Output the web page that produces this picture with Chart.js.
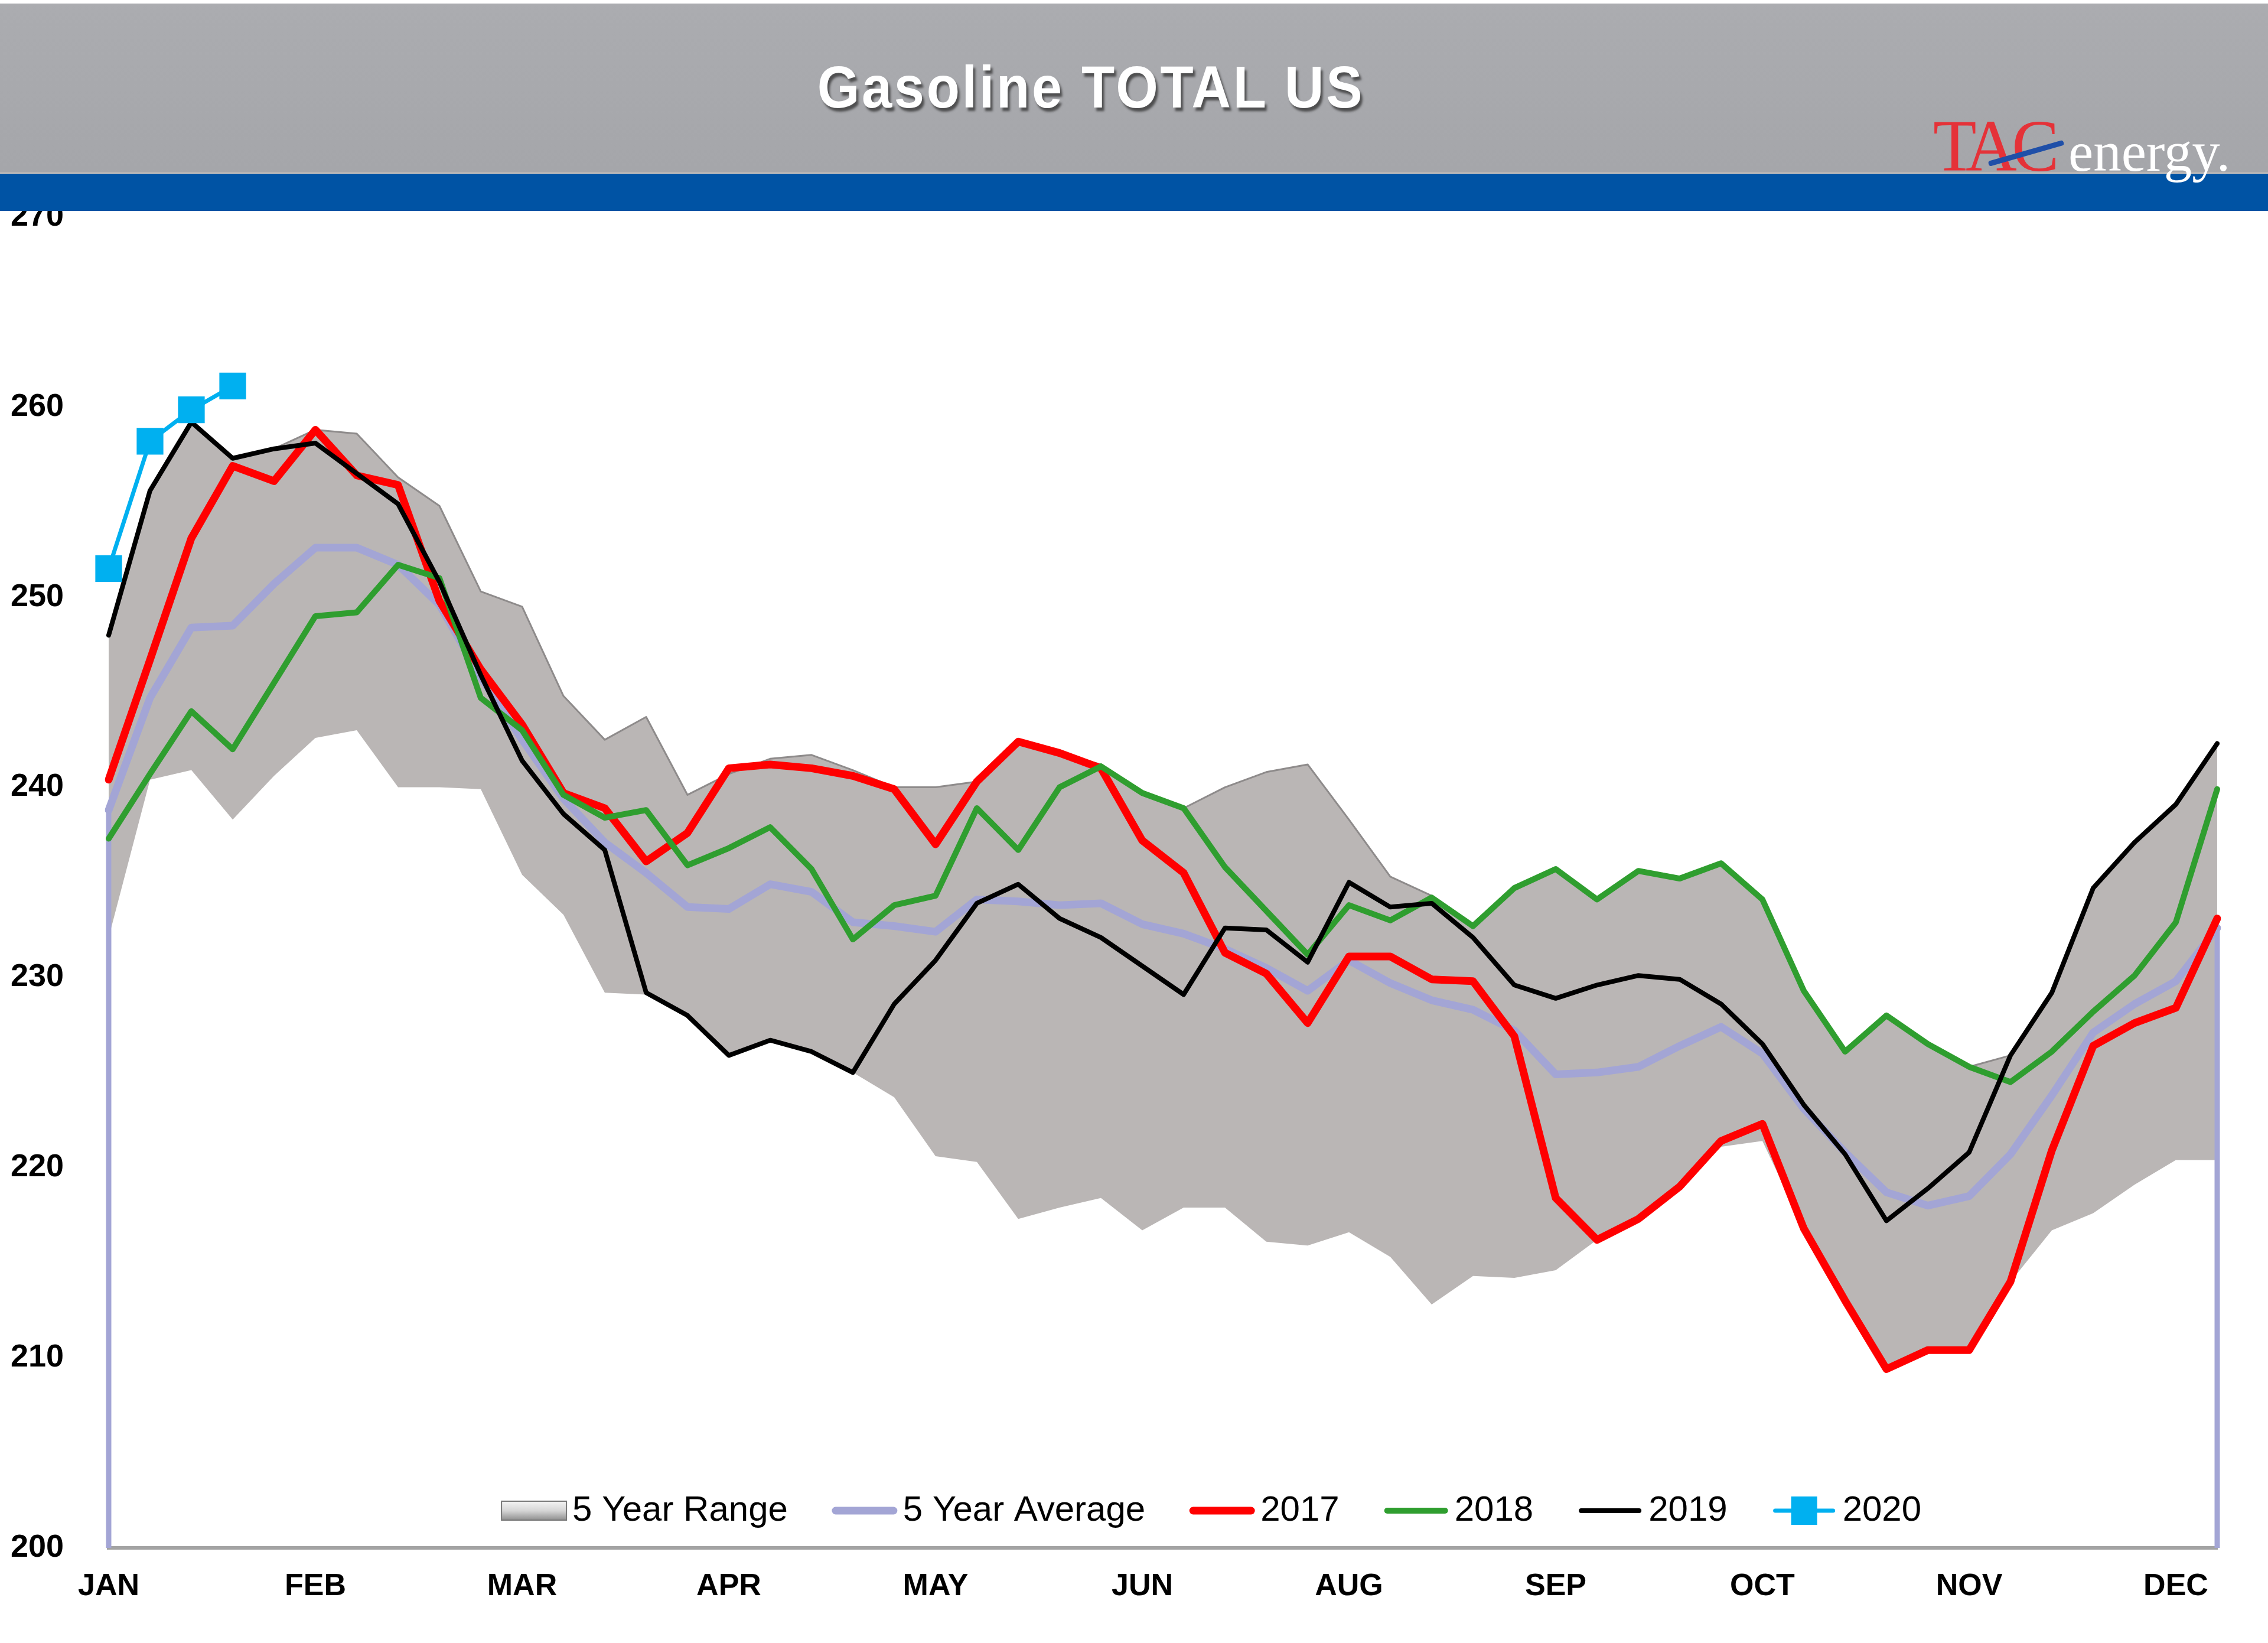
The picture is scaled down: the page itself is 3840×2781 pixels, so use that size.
<!DOCTYPE html>
<html>
<head>
<meta charset="utf-8">
<title>Gasoline TOTAL US</title>
<script src="https://cdn.jsdelivr.net/npm/chart.js@4.4.1/dist/chart.umd.min.js"></script>
<style>
  html, body { margin: 0; padding: 0; background: #fff; }
  #wrap { position: relative; width: 3840px; height: 2781px; overflow: hidden; }
  #chart { position: absolute; left: 0; top: 0; }
  #band { position: absolute; left: 0; top: 6px; width: 3840px; height: 286px; background: linear-gradient(#abacb0, #a5a6aa); }
  #blue { position: absolute; left: 0; top: 292px; width: 3840px; height: 63px; background: #0053a4; border-top: 2px solid #cfc6c0; }
  #title { position: absolute; left: 1847px; top: 147px; transform: translate(-50%, -50%) scaleX(0.92);
           font: bold 100px "Liberation Sans", Arial, sans-serif; letter-spacing: 4px; color: #fff; white-space: nowrap;
           text-shadow: 4px 6px 4px rgba(50,50,50,0.75); }
  .logo { position: absolute; font-family: "Liberation Serif", "Times New Roman", serif; white-space: nowrap; }
  #tac { left: 3273px; top: 186px; font-size: 124px; line-height: 124px; color: #e53238; letter-spacing: -9px;
         transform: scaleX(0.97); transform-origin: 0 0; }
  #energy { left: 3502px; top: 210px; font-size: 95px; line-height: 95px; color: #fff; }
  #slash { position: absolute; left: 3367px; top: 273px; width: 132px; height: 9px; background: #1f4fa8;
           transform-origin: 0 50%; transform: rotate(-16deg); border-radius: 4px; }
</style>
</head>
<body>
<div id="wrap">
  <canvas id="chart" width="3840" height="2781"></canvas>
  <div id="band"></div>
  <div id="blue"></div>
  <div id="title">Gasoline TOTAL US</div>
  <div class="logo" id="tac">TAC</div>
  <div class="logo" id="energy">energy.</div>
  <div id="slash"></div>
</div>
<script>
// weekly stocks, million barrels
const weeks = [1,2,3,4,5,6,7,8,9,10,11,12,13,14,15,16,17,18,19,20,21,22,23,24,25,26,
               27,28,29,30,31,32,33,34,35,36,37,38,39,40,41,42,43,44,45,46,47,48,49,50,51,52];
const monthTicks = ['JAN','FEB','MAR','APR','MAY','JUN','AUG','SEP','OCT','NOV','DEC'];
const tickEvery = 5;

const rangeHigh = [248.0,255.6,259.2,257.3,257.8,258.8,258.6,256.3,254.8,250.3,249.5,244.8,242.5,243.7,239.6,240.7,
                   241.5,241.7,240.9,240.0,240.0,240.3,242.4,241.8,241.2,239.7,238.9,240.0,240.8,241.2,238.3,235.3,
                   234.3,232.8,234.7,235.7,234.1,235.6,235.2,236.0,234.1,229.3,226.1,228.0,226.5,225.3,225.9,229.2,
                   234.7,237.1,239.1,242.3];
const rangeLow = [232.1,240.4,240.9,238.3,240.6,242.6,243.0,240.0,240.0,239.9,235.4,233.3,229.2,229.1,228.0,225.9,
                  226.7,226.1,225.0,223.7,220.6,220.3,217.3,217.9,218.4,216.7,217.9,217.9,216.1,215.9,216.6,215.3,
                  212.8,214.3,214.2,214.6,216.2,217.3,219.0,221.1,221.4,216.8,213.0,209.4,210.4,210.4,214.0,216.7,
                  217.6,219.1,220.4,220.4];
const avg5 = [238.8,244.7,248.4,248.5,250.7,252.6,252.6,251.7,249.6,245.8,242.5,239.4,237.1,235.5,233.7,233.6,
              234.9,234.5,232.9,232.7,232.4,234.1,234.0,233.8,233.9,232.8,232.3,231.5,230.5,229.3,230.9,229.7,
              228.8,228.3,227.2,224.9,225.0,225.3,226.4,227.4,226.0,223.1,220.8,218.7,218.0,218.5,220.7,223.8,
              227.1,228.6,229.8,232.6];
const y2017 = [240.4,246.7,253.1,256.9,256.1,258.8,256.4,255.9,249.8,246.2,243.3,239.7,238.9,236.1,237.6,241.0,
               241.2,241.0,240.6,239.9,237.0,240.3,242.4,241.8,241.0,237.2,235.5,231.3,230.2,227.6,231.1,231.1,
               229.9,229.8,226.9,218.4,216.2,217.3,219.0,221.4,222.3,216.8,213.0,209.4,210.4,210.4,214.0,220.9,
               226.4,227.6,228.4,233.1];
const y2018 = [237.3,240.7,244.0,242.0,245.5,249.0,249.2,251.7,251.0,244.7,243.0,239.6,238.4,238.8,235.9,236.8,
               237.9,235.7,232.0,233.8,234.3,238.9,236.7,240.0,241.1,239.7,238.9,235.8,233.5,231.2,233.8,233.0,
               234.2,232.7,234.7,235.7,234.1,235.6,235.2,236.0,234.1,229.3,226.1,228.0,226.5,225.3,224.5,226.1,
               228.2,230.1,232.9,239.9];
const y2019 = [248.0,255.6,259.2,257.3,257.8,258.1,256.5,254.9,250.8,245.9,241.4,238.6,236.7,229.2,228.0,225.9,
               226.7,226.1,225.0,228.6,230.9,233.9,234.9,233.1,232.1,230.6,229.1,232.6,232.5,230.8,235.0,233.7,
               233.9,232.1,229.6,228.9,229.6,230.1,229.9,228.6,226.5,223.3,220.7,217.2,218.9,220.8,225.9,229.2,
               234.7,237.1,239.1,242.3];
const y2020 = [251.5,258.2,259.85,261.1];

// the 5 year average is outlined down to the axis at both ends
const avgEnds = {
  id: 'avgEnds',
  afterDatasetDraw(chart, args) {
    if (args.index !== 4) return;
    const ds = chart.data.datasets[4];
    const x = chart.scales.x, y = chart.scales.y;
    const ctx = chart.ctx;
    ctx.save();
    ctx.strokeStyle = ds.borderColor;
    ctx.lineWidth = 9;
    [0, ds.data.length - 1].forEach(function (i) {
      ctx.beginPath();
      ctx.moveTo(x.getPixelForValue(i), y.getPixelForValue(ds.data[i]));
      ctx.lineTo(x.getPixelForValue(i), y.getPixelForValue(y.min));
      ctx.stroke();
    });
    ctx.restore();
  }
};

// legend sits inside the plot, above the month labels
const innerLegend = {
  id: 'innerLegend',
  afterDraw(chart) {
    const ctx = chart.ctx;
    const area = chart.chartArea;
    const items = [5, 4, 3, 2, 1, 0].map(function (i) { return chart.data.datasets[i]; });
    const sw = 110, gap = 10, between = 75;
    ctx.save();
    ctx.font = '60px "Liberation Sans", Arial, sans-serif';
    ctx.textBaseline = 'middle';
    let total = 0;
    items.forEach(function (ds, k) {
      total += sw + gap + ctx.measureText(ds.label).width + (k < items.length - 1 ? between : 0);
    });
    let x = area.left + (area.right - area.left) * 0.523 - total / 2;
    const yc = area.bottom - 63;
    items.forEach(function (ds) {
      if (ds.fill) {
        const g = ctx.createLinearGradient(0, yc - 16, 0, yc + 16);
        g.addColorStop(0, '#f4f4f4');
        g.addColorStop(0.5, '#d6d6d6');
        g.addColorStop(1, '#8f8f8f');
        ctx.fillStyle = g;
        ctx.fillRect(x, yc - 16, sw, 32);
        ctx.strokeStyle = '#777';
        ctx.lineWidth = 2;
        ctx.strokeRect(x, yc - 16, sw, 32);
      } else {
        ctx.strokeStyle = ds.borderColor;
        ctx.lineWidth = ds.borderWidth;
        ctx.lineCap = 'round';
        ctx.beginPath();
        ctx.moveTo(x + 6, yc);
        ctx.lineTo(x + sw - 6, yc);
        ctx.stroke();
        if (ds.pointRadius > 0) {
          ctx.fillStyle = ds.pointBackgroundColor;
          ctx.fillRect(x + sw / 2 - 22, yc - 24, 44, 48);
        }
      }
      x += sw + gap;
      ctx.fillStyle = '#000';
      ctx.fillText(ds.label, x, yc);
      x += ctx.measureText(ds.label).width + between;
    });
    ctx.restore();
  }
};

const ctx = document.getElementById('chart').getContext('2d');
const chart = new Chart(ctx, {
  type: 'line',
  data: {
    labels: weeks,
    datasets: [
      { label: '2020', data: y2020, borderColor: '#00b0f0', borderWidth: 7,
        pointStyle: 'rect', pointRadius: 32, pointBackgroundColor: '#00b0f0', pointBorderWidth: 0, order: 0 },
      { label: '2019', data: y2019, borderColor: '#000000', borderWidth: 8, order: 1 },
      { label: '2018', data: y2018, borderColor: '#2f9e2f', borderWidth: 10, order: 2 },
      { label: '2017', data: y2017, borderColor: '#ff0000', borderWidth: 13, order: 3 },
      { label: '5 Year Average', data: avg5, borderColor: '#a3a5d5', borderWidth: 13, order: 4 },
      { label: '5 Year Range', data: rangeHigh, borderColor: '#8e8b8b', borderWidth: 3,
        backgroundColor: '#bab6b5', fill: '+1', order: 5 },
      { label: 'range low', data: rangeLow, borderColor: 'rgba(0,0,0,0)', borderWidth: 0, order: 6 }
    ]
  },
  options: {
    responsive: false,
    animation: false,
    devicePixelRatio: 1,
    layout: { padding: { left: 0, right: 86, top: 367, bottom: 0 } },
    elements: {
      line: { tension: 0, borderJoinStyle: 'round', borderCapStyle: 'round' },
      point: { radius: 0, hoverRadius: 0 }
    },
    plugins: {
      legend: { display: false },
      tooltip: { enabled: false }
    },
    scales: {
      x: {
        type: 'category',
        offset: false,
        grid: { display: false, drawTicks: false },
        border: { display: true, color: '#a3a3a3', width: 6 },
        ticks: {
          autoSkip: false, maxRotation: 0, minRotation: 0, padding: 34,
          color: '#000', font: { family: '"Liberation Sans", Arial, sans-serif', size: 52, weight: 'bold' },
          callback: function (v, i) { return i % tickEvery === 0 ? monthTicks[i / tickEvery] : ''; }
        },
        afterFit: function (s) { s.height = 161; }
      },
      y: {
        min: 200, max: 270,
        grid: { display: false, drawTicks: false },
        border: { display: false },
        ticks: {
          stepSize: 10, padding: 76, color: '#000',
          font: { family: '"Liberation Sans", Arial, sans-serif', size: 54, weight: 'bold' }
        },
        afterFit: function (s) { s.width = 184; }
      }
    }
  },
  plugins: [avgEnds, innerLegend]
});
</script>
</body>
</html>
